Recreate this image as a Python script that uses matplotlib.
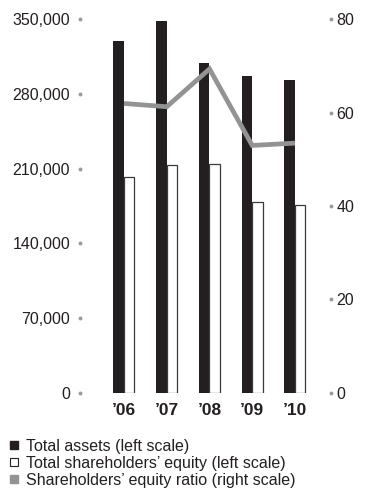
import matplotlib
matplotlib.use("Agg")
import matplotlib.pyplot as plt
from matplotlib.patches import Patch
import numpy as np

years = ["\u201906", "\u201907", "\u201908", "\u201909", "\u201910"]
total_assets = [329800, 348600, 309500, 297000, 293300]
equity = [202000, 213300, 214200, 178600, 175700]
equity_ratio = [62.0, 61.3, 69.4, 53.0, 53.5]
left_ticks = [0, 70000, 140000, 210000, 280000, 350000]
right_ticks = [0, 20, 40, 60, 80]

plt.rcParams['font.family'] = ['Liberation Sans', 'DejaVu Sans']
TXT = '#231f20'
DOT = '#9a9a9a'

fig = plt.figure(figsize=(3.65, 4.9), dpi=100)
ax = fig.add_axes([80/365, 97.3/490, 251/365, 373.2/490])
ax2 = ax.twinx()

x = np.arange(len(years))
w_black = 0.25
w_white = 0.245
ax.bar(x - w_black/2, total_assets, width=w_black, color='#231f20', zorder=2)
ax.bar(x + w_white/2, equity, width=w_white, color='white', edgecolor='#3a3a3a',
       linewidth=0.9, zorder=2)
ax2.plot(x, equity_ratio, color='#939393', linewidth=3.4, solid_capstyle='butt',
         solid_joinstyle='miter', zorder=3)

ax.set_xlim(-1.029, 4.842)
ax.set_ylim(0, 350000)
ax2.set_ylim(0, 80)

ax.set_yticks(left_ticks)
ax.set_yticklabels([f"{v:,}" for v in left_ticks])
ax2.set_yticks(right_ticks)
ax2.set_yticklabels([str(v) for v in right_ticks])
ax.set_xticks(x)
ax.set_xticklabels(years, fontweight='bold', fontsize=12.5, color=TXT)

ax.tick_params(axis='y', length=0, pad=7.2, labelsize=11.5, labelcolor=TXT)
ax2.tick_params(axis='y', length=0, pad=3.8, labelsize=11.5, labelcolor=TXT)
ax.tick_params(axis='x', length=0, pad=7.5)

for a in (ax, ax2):
    for s in a.spines.values():
        s.set_visible(False)

# dot markers at tick positions
ax.scatter([0]*len(left_ticks), left_ticks, s=8, color=DOT,
           transform=ax.get_yaxis_transform(), clip_on=False, zorder=5, linewidths=0)
ax2.scatter([1]*len(right_ticks), right_ticks, s=8, color=DOT,
            transform=ax2.get_yaxis_transform(), clip_on=False, zorder=5, linewidths=0)

handles = [Patch(facecolor='#231f20', edgecolor='#231f20'),
           Patch(facecolor='white', edgecolor='#231f20', linewidth=0.8),
           Patch(facecolor='#939393', edgecolor='#939393')]
labels = ["Total assets (left scale)",
          "Total shareholders\u2019 equity (left scale)",
          "Shareholders\u2019 equity ratio (right scale)"]
leg = fig.legend(handles, labels, loc='upper left', bbox_to_anchor=(0.0148, 1 - 434/490),
                 frameon=False, fontsize=11.5, handlelength=0.47, handleheight=0.47,
                 handletextpad=0.53, labelspacing=0.13, borderaxespad=0, borderpad=0.29)
for t in leg.get_texts():
    t.set_color(TXT)

fig.savefig("out.png", dpi=100)
